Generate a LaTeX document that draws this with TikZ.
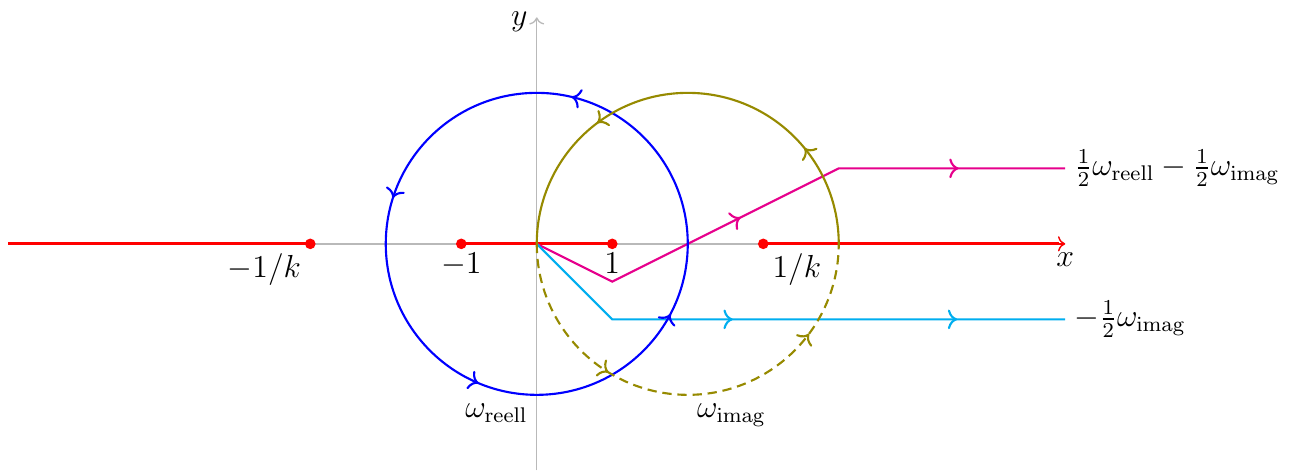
\documentclass[tikz,border=0pt]{standalone}
\usepackage{xcolor}
\usetikzlibrary{decorations.markings,arrows.meta}
\begin{document}
\begin{tikzpicture}[x=1cm,y=1cm,
    every node/.style={font=\large},
    axisline/.style={gray!55,line width=0.5pt,->},
    redline/.style={red,line width=1.2pt},
    pathline/.style={line width=0.8pt},
    arrowat/.style={postaction={decorate,decoration={markings,mark=at position #1 with {\arrow{To[scale=1.05]}}}}}]
  \definecolor{lolive}{RGB}{150,138,0}
  \definecolor{lmagenta}{RGB}{230,0,140}
  \definecolor{lcyan}{RGB}{0,174,239}
  \useasboundingbox (-7.11,-3.03) rectangle (10.07,3.23);
  \coordinate (O) at (0,0);
  \coordinate (xl) at (-7,0);
  \coordinate (xr) at (7,0);
  \coordinate (yb) at (0,-3);
  \coordinate (yt) at (0,3);
  \draw[axisline] (xl) -- (xr);
  \draw[axisline] (yb) -- (yt);
  \node[left,yshift=-1.5pt] (ylab) at (yt) {$y$};
  \node[below] (xlab) at (xr) {$x$};
  \coordinate (mk) at (-3,0);
  \coordinate (m1) at (-1,0);
  \coordinate (p1) at (1,0);
  \coordinate (pk) at (3,0);
  \draw[redline] (xl) -- (mk);
  \draw[redline] (m1) -- (p1);
  \draw[redline,shorten >=2.5pt] (pk) -- (xr);
  \draw[red,line width=0.5pt,->] (pk) -- (xr);
  \node[below left] (lmk) at (mk) {$-1/k$};
  \node[below] (lm1) at (m1) {$-1$};
  \node[below] (lp1) at (p1) {$1$};
  \node[below right] (lpk) at (pk) {$1/k$};
  \coordinate (q1) at (1,-0.5);
  \coordinate (q2) at (4,1);
  \coordinate (q3) at (7,1);
  \draw[lmagenta,pathline,arrowat=0.404,arrowat=0.811] (O) -- (q1) -- (q2) -- (q3);
  \node[right] (lq) at (q3) {$\frac{1}{2}\omega_{\mathrm{reell}}-\frac{1}{2}\omega_{\mathrm{imag}}$};
  \coordinate (c1) at (1,-1);
  \coordinate (c2) at (7,-1);
  \draw[lcyan,pathline,arrowat=0.406,arrowat=0.807] (O) -- (c1) -- (c2);
  \node[right] (lc) at (c2) {$-\frac{1}{2}\omega_{\mathrm{imag}}$};
  \draw[blue,pathline,arrowat=0.213,arrowat=0.451,arrowat=0.687,arrowat=0.923] (O) circle (2);
  \coordinate (or) at (4,0);
  \draw[lolive,pathline,arrowat=0.219,arrowat=0.705] (or) arc[start angle=0,end angle=180,radius=2];
  \draw[lolive,pathline,dash pattern=on 3.5pt off 2.2pt,arrowat=0.324,arrowat=0.797] (O) arc[start angle=180,end angle=360,radius=2];
  \foreach \p in {mk,m1,p1,pk} \fill[red] (\p) circle (2pt);
  \node[below left] (lre) at (0,-2) {$\omega_{\mathrm{reell}}$};
  \node[below right] (lim) at (2,-2) {$\omega_{\mathrm{imag}}$};
\end{tikzpicture}
\end{document}
